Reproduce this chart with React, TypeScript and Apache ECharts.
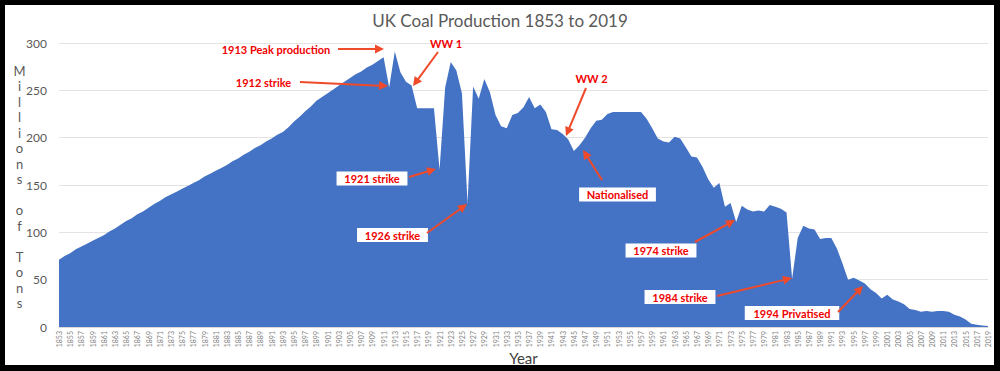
import { useEffect, useRef } from "react";
import * as echarts from "echarts";

const START_YEAR = 1853;
const END_YEAR = 2019;
const years: string[] = [];
for (let y = START_YEAR; y <= END_YEAR; y++) years.push(String(y));

// Millions of tons, 1853 .. 2019
const production: number[] = [
  71, 75, 78, 82, 85, 88, 91, // 1853-1859
  94, 97, 101, 104, 108, 112, 115, 119, 122, 126, // 1860s
  130, 133, 137, 140, 143, 146, 149, 152, 155, 159, // 1870s
  162, 165, 168, 171, 175, 178, 182, 185, 189, 192, // 1880s
  196, 199, 203, 206, 211, 217, 222, 228, 233, 239, // 1890s
  243, 247, 251, 255, 259, 263, 267, 270, 274, 277, // 1900s
  281, 285, 253, 291, 269, 259, 255, 231, 231, 231, // 1910s
  231, 166, 253, 280, 271, 247, 131, 254, 241, 262, // 1920s
  248, 224, 212, 210, 224, 226, 232, 243, 231, 235, // 1930s
  227, 209, 208, 204, 198, 186, 192, 200, 210, 218, // 1940s
  219, 225, 227, 227, 227, 227, 227, 227, 220, 210, // 1950s
  199, 196, 195, 201, 199, 190, 180, 179, 169, 156, // 1960s
  147, 152, 127, 131, 111, 128, 124, 122, 123, 122, // 1970s
  129, 127, 125, 121, 51, 94, 107, 104, 103, 93, // 1980s
  94, 94, 83, 67, 50, 52, 49, 46, 40, 36, // 1990s
  30, 34, 29, 27, 24, 19, 18, 16, 17, 16, // 2000s
  17, 17, 16, 13, 11, 8, 3.5, 2.5, 1.5, 1, // 2010s
];

const yTicks = { min: 0, max: 300, interval: 50 };
const titleText = "UK Coal Production 1853 to 2019";
const yAxisTitle = "Millions of Tons";
const xAxisTitle = "Year";

// Annotation layout (page pixels): label, label centre, box?, arrow start -> tip
type Note = { text: string; cx: number; cy: number; box: boolean; ax: number; ay: number; tx: number; ty: number };
const notes: Note[] = [
  { text: "1913 Peak production", cx: 276, cy: 49.5, box: false, ax: 338, ay: 49, tx: 384, ty: 49 },
  { text: "1912 strike", cx: 263.5, cy: 82, box: false, ax: 300, ay: 82, tx: 388, ty: 86 },
  { text: "WW 1", cx: 446, cy: 43.5, box: false, ax: 438, ay: 52, tx: 413, ty: 86 },
  { text: "1921 strike", cx: 372, cy: 178.5, box: true, ax: 409, ay: 177, tx: 436, ty: 169 },
  { text: "1926 strike", cx: 392.5, cy: 235, box: true, ax: 427, ay: 233, tx: 467, ty: 204 },
  { text: "WW 2", cx: 591.5, cy: 78, box: false, ax: 586, ay: 88, tx: 566, ty: 136 },
  { text: "Nationalised", cx: 617.5, cy: 194.5, box: true, ax: 602, ay: 180, tx: 583, ty: 150 },
  { text: "1974 strike", cx: 661, cy: 250.5, box: true, ax: 695, ay: 242, tx: 735, ty: 220 },
  { text: "1984 strike", cx: 680, cy: 297, box: true, ax: 717, ay: 296, tx: 792, ty: 278 },
  { text: "1994 Privatised", cx: 792, cy: 313, box: true, ax: 838, ay: 312, tx: 863, ty: 286 },
];

const FONT = "Lato, 'Open Sans', sans-serif";
const ARROW = "#EF4A2A";
const RED = "#F00000";

function arrowEls(x1: number, y1: number, x2: number, y2: number): any[] {
  const dx = x2 - x1;
  const dy = y2 - y1;
  const len = Math.sqrt(dx * dx + dy * dy);
  const ux = dx / len;
  const uy = dy / len;
  const head = 9;
  const half = 4.5;
  const bx = x2 - ux * head;
  const by = y2 - uy * head;
  return [
    {
      type: "line",
      shape: { x1, y1, x2: bx + ux * 1, y2: by + uy * 1 },
      style: { stroke: ARROW, lineWidth: 2 },
      z: 100,
    },
    {
      type: "polygon",
      shape: {
        points: [
          [x2, y2],
          [bx - uy * half, by + ux * half],
          [bx + uy * half, by - ux * half],
        ],
      },
      style: { fill: ARROW },
      z: 100,
    },
  ];
}

export default function App() {
  const ref = useRef<HTMLDivElement>(null);

  useEffect(() => {
    document.body.style.margin = "0";
    if (!ref.current) return;
    const chart = echarts.init(ref.current, undefined, { renderer: "svg" });

    const graphics: any[] = [
      {
        type: "text",
        x: 19.5,
        y: 63,
        style: {
          text: yAxisTitle.split("").join("\n"),
          font: `13px ${FONT}`,
          fill: "#595959",
          lineHeight: 15.5,
          align: "center",
          verticalAlign: "top",
        },
        z: 100,
      },
    ];

    for (const n of notes) {
      if (n.box) {
        const w = n.text.length * 5.9 + 6;
        graphics.push({
          type: "rect",
          shape: { x: n.cx - w / 2, y: n.cy - 7, width: w, height: 14 },
          style: { fill: "#ffffff" },
          z: 99,
        });
      }
      graphics.push({
        type: "text",
        x: n.cx,
        y: n.cy,
        style: {
          text: n.text,
          font: `bold 11px ${FONT}`,
          fill: RED,
          align: "center",
          verticalAlign: "middle",
        },
        z: 101,
      });
      graphics.push(...arrowEls(n.ax, n.ay, n.tx, n.ty));
    }

    chart.setOption({
      animation: false,
      backgroundColor: "transparent",
      title: {
        text: titleText,
        left: "center",
        top: 7,
        textStyle: { fontFamily: FONT, fontSize: 17, fontWeight: "normal", color: "#595959" },
      },
      grid: { left: 59, right: 12, top: 43, bottom: 44, containLabel: false, outerBoundsMode: "none" },
      xAxis: {
        type: "category",
        data: years,
        boundaryGap: false,
        name: xAxisTitle,
        nameLocation: "middle",
        nameGap: 23,
        nameMoveOverlap: false,
        nameTextStyle: { fontFamily: FONT, fontSize: 15, color: "#404040" },
        axisTick: { show: false },
        axisLine: { show: true, lineStyle: { color: "#d9d9d9" } },
        axisLabel: {
          interval: 1,
          rotate: 90,
          fontSize: 7,
          fontFamily: FONT,
          color: "#7f7f7f",
          margin: 4,
        },
      },
      yAxis: {
        type: "value",
        min: yTicks.min,
        max: yTicks.max,
        interval: yTicks.interval,
        axisLine: { show: false },
        axisTick: { show: false },
        axisLabel: { fontFamily: FONT, fontSize: 12, color: "#595959", margin: 12 },
        splitLine: { lineStyle: { color: "#e3e3e3", width: 1 } },
      },
      series: [
        {
          type: "line",
          data: production,
          showSymbol: false,
          symbol: "none",
          lineStyle: { width: 0 },
          areaStyle: { color: "#4472C4", opacity: 1 },
          itemStyle: { color: "#4472C4" },
          z: 2,
        },
      ],
      graphic: graphics,
    });

    return () => chart.dispose();
  }, []);

  return (
    <div style={{ position: "relative", width: 1000, height: 371, background: "#000", overflow: "hidden" }}>
      <div style={{ position: "absolute", left: 5, top: 5, width: 989, height: 360, background: "#fff" }} />
      <div ref={ref} style={{ position: "absolute", left: 0, top: 0, width: 1000, height: 371 }} />
    </div>
  );
}
